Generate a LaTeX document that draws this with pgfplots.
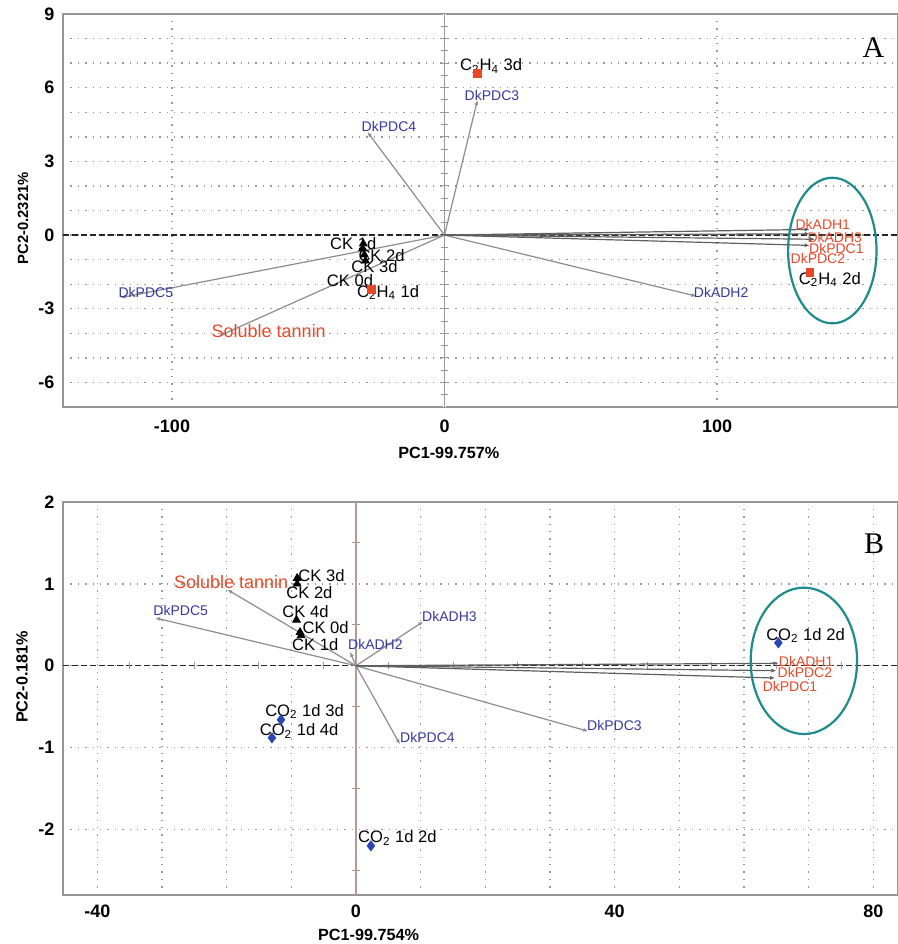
\documentclass[border=0pt]{standalone}
\usepackage{fontspec}
\setmainfont{Liberation Sans}
\newfontfamily\seriffont{Liberation Serif}
\usepackage{pgfplots}
\pgfplotsset{compat=1.18}
\usetikzlibrary{arrows.meta}
\definecolor{lblue}{RGB}{55,55,160}
\definecolor{lred}{RGB}{232,72,40}
\definecolor{lteal}{RGB}{30,140,140}
\definecolor{vgray}{RGB}{140,140,140}
\definecolor{dgray}{RGB}{95,95,95}
\definecolor{mblue}{RGB}{40,70,180}
\definecolor{framegray}{RGB}{150,150,150}
\definecolor{zbrown}{RGB}{180,155,145}
\newcommand{\lbl}{\fontsize{7}{8}\selectfont}
\newcommand{\ck}{\fontsize{8.3}{9}\selectfont}
\pgfplotsset{
  pcastyle/.style={
    scale only axis, width=417.5pt, height=196.5pt,
    axis line style={framegray, line width=0.8pt},
    major tick length=0pt, minor tick length=0pt,
    tick label style={font=\bfseries\fontsize{9}{10}\selectfont},
    label style={font=\bfseries\fontsize{8.1}{10}\selectfont},
    yticklabel style={xshift=-0.8pt},
    major grid style={gray!80, line width=0.7pt, dash pattern=on 0.7pt off 3pt},
    minor grid style={gray!80, line width=0.7pt, dash pattern=on 0.7pt off 3pt},
    vec/.style={vgray, line width=0.6pt, -{Latex[length=2.5pt,width=2pt]}},
    dvec/.style={dgray, line width=0.6pt, -{Latex[length=2.5pt,width=2pt]}},
  }
}
\begin{document}
\begin{tikzpicture}[x=1pt,y=1pt]
\useasboundingbox (0,0) rectangle (449,-472);
% ---------------- Panel A ----------------
\begin{axis}[pcastyle,
  at={(31.5pt,-7pt)}, anchor=north west,
  xmin=-140, xmax=166.4, ymin=-7, ymax=9,
  xtick={-100,0,100}, xticklabels={-100,0,100},
  ytick={-6,-3,0,3,6,9}, yticklabels={-6,-3,0,3,6,9},
  minor ytick={-6,-5,...,8},
  xmajorgrids, ymajorgrids, yminorgrids,
  xticklabel style={anchor=base, yshift=-12.7pt},
  xlabel={PC1-99.757\%}, ylabel={PC2-0.2321\%},
  xlabel style={at={(axis description cs:0.462,0)}, anchor=center, yshift=-23pt},
  ylabel style={at={(axis description cs:-0.048,0.48)}, anchor=center, font=\bfseries\fontsize{7.4}{9}\selectfont},
]
\draw[white, line width=1.2pt] (axis cs:0,-7) -- (axis cs:0,9);
\draw[gray!80, line width=0.7pt] (axis cs:0,-7) -- (axis cs:0,9);
\pgfplotsinvokeforeach{-6.5,-6,-5.5,-5,-4.5,-4,-3.5,-3,-2.5,-2,-1.5,-1,-0.5,0.5,1,1.5,2,2.5,3,3.5,4,4.5,5,5.5,6,6.5,7,7.5,8,8.5}{\draw[gray!80, line width=0.5pt] ([xshift=-1.8pt]axis cs:0,#1) -- ([xshift=1.8pt]axis cs:0,#1);}
\draw[black!85, line width=0.7pt, dash pattern=on 3pt off 1.5pt] (axis cs:-140,0) -- (axis cs:166.4,0);
% vectors
\addplot[vec] coordinates {(0,0) (-28.3,4.2)};
\addplot[vec] coordinates {(0,0) (-118.9,-2.55)};
\addplot[vec] coordinates {(0,0) (12.1,5.5)};
\addplot[vec] coordinates {(0,0) (92.5,-2.49)};
\addplot[vec] coordinates {(0,0) (-82.6,-4.1)};
\addplot[dvec] coordinates {(0,0) (134,0.23)};
\addplot[dvec] coordinates {(0,0) (134,0.05)};
\addplot[dvec] coordinates {(0,0) (136,-0.17)};
\addplot[dvec] coordinates {(0,0) (134,-0.42)};
% samples
\addplot[only marks, mark=triangle*, mark size=2.2pt, black] coordinates {(-29.8,-0.35) (-30.1,-0.55) (-29.4,-0.8) (-29,-1.05)};
\addplot[only marks, mark=square*, mark size=1.9pt, lred] coordinates {(12.1,6.57) (-26.9,-2.2) (134,-1.52)};
% ellipse
\draw[lteal, line width=1.1pt] (axis cs:142.3,-0.63) ellipse [x radius=22.1pt, y radius=36.4pt];
% labels
\node[lblue, font=\lbl] at (axis cs:-20.4,4.41) {DkPDC4};
\node[lblue, font=\lbl] at (axis cs:-109.6,-2.33) {DkPDC5};
\node[lblue, font=\lbl] at (axis cs:17.4,5.67) {DkPDC3};
\node[lblue, font=\lbl] at (axis cs:101.5,-2.33) {DkADH2};
\node[lred, font=\fontsize{9}{10}\selectfont] at (axis cs:-64.5,-3.91) {Soluble tannin};
\node[lred, font=\lbl] at (axis cs:138.8,0.43) {DkADH1};
\node[lred, font=\lbl] at (axis cs:143.2,-0.1) {DkADH3};
\node[lred, font=\lbl] at (axis cs:143.8,-0.54) {DkPDC1};
\node[lred, font=\lbl] at (axis cs:137,-0.95) {DkPDC2};
\node[black, font=\ck] at (axis cs:17.1,6.89) {C\textsubscript{2}H\textsubscript{4} 3d};
\node[black, font=\ck] at (axis cs:141.4,-1.8) {C\textsubscript{2}H\textsubscript{4} 2d};
\node[black, font=\ck] at (axis cs:-20.7,-2.33) {C\textsubscript{2}H\textsubscript{4} 1d};
\node[black, font=\ck] at (axis cs:-33.5,-0.34) {CK 1d};
\node[black, font=\ck] at (axis cs:-23.1,-0.82) {CK 2d};
\node[black, font=\ck] at (axis cs:-25.7,-1.27) {CK 3d};
\node[black, font=\ck] at (axis cs:-34.7,-1.84) {CK 0d};
\node[black, font=\seriffont\fontsize{15}{16}\selectfont] at (axis cs:157.4,7.64) {A};
\end{axis}
% ---------------- Panel B ----------------
\begin{axis}[pcastyle,
  at={(31.5pt,-251pt)}, anchor=north west,
  xmin=-45.3, xmax=83.8, ymin=-2.8, ymax=2,
  xtick={-40,0,40,80}, xticklabels={-40,0,40,80},
  minor xtick={-40,-30,...,80},
  ytick={-2,-1,0,1,2}, yticklabels={-2,-1,0,1,2},
  xmajorgrids, xminorgrids, ymajorgrids,
  xticklabel style={anchor=base, yshift=-11.2pt},
  xlabel={PC1-99.754\%}, ylabel={PC2-0.181\%},
  xlabel style={at={(axis description cs:0.366,0)}, anchor=center, yshift=-20pt},
  ylabel style={at={(axis description cs:-0.049,0.555)}, anchor=center},
]
\draw[white, line width=1.2pt] (axis cs:0,-2.8) -- (axis cs:0,2);
\draw[zbrown, line width=0.7pt] (axis cs:0,-2.8) -- (axis cs:0,2);
\pgfplotsinvokeforeach{-2.5,-1.5,-0.5,0.5,1.5}{\draw[gray!80, line width=0.5pt] ([xshift=-1.8pt]axis cs:0,#1) -- ([xshift=1.8pt]axis cs:0,#1);}
\draw[black!85, line width=0.7pt, dash pattern=on 3pt off 1.5pt] (axis cs:-45.3,0) -- (axis cs:83.8,0);
\pgfplotsinvokeforeach{-35,-25,-15,-5,5,15,25,35,45,55,65,75}{\draw[gray!80, line width=0.5pt] ([yshift=-1.8pt]axis cs:#1,0) -- ([yshift=1.8pt]axis cs:#1,0);}
% vectors
\addplot[vec] coordinates {(0,0) (-31.07,0.585)};
\addplot[vec] coordinates {(0,0) (-19.9,0.93)};
\addplot[vec] coordinates {(0,0) (-0.93,0.17)};
\addplot[vec] coordinates {(0,0) (10.4,0.54)};
\addplot[vec] coordinates {(0,0) (6.8,-0.96)};
\addplot[vec] coordinates {(0,0) (35.9,-0.80)};
\addplot[dvec] coordinates {(0,0) (65.3,0.03)};
\addplot[dvec] coordinates {(0,0) (65.0,-0.06)};
\addplot[dvec] coordinates {(0,0) (64.8,-0.15)};
% samples
\addplot[only marks, mark=triangle*, mark size=2.2pt, black] coordinates {(-9.1,1.07) (-9.1,1.0) (-9.2,0.56) (-8.65,0.41) (-8.5,0.37)};
\addplot[only marks, mark=diamond*, mark size=2.5pt, mblue] coordinates {(-11.6,-0.66) (-13.0,-0.88) (2.3,-2.2) (65.3,0.28)};
% ellipse
\draw[lteal, line width=1.1pt] (axis cs:69.25,0.06) ellipse [x radius=26.6pt, y radius=36.6pt];
% labels
\node[lblue, font=\lbl] at (axis cs:-27.1,0.67) {DkPDC5};
\node[lblue, font=\lbl] at (axis cs:3.0,0.26) {DkADH2};
\node[lblue, font=\lbl] at (axis cs:14.45,0.6) {DkADH3};
\node[lblue, font=\lbl] at (axis cs:11.05,-0.88) {DkPDC4};
\node[lblue, font=\lbl] at (axis cs:39.96,-0.73) {DkPDC3};
\node[lred, font=\fontsize{9}{10}\selectfont] at (axis cs:-19.3,1.02) {Soluble tannin};
\node[lred, font=\lbl] at (axis cs:69.6,0.05) {DkADH1};
\node[lred, font=\lbl] at (axis cs:69.4,-0.08) {DkPDC2};
\node[lred, font=\lbl] at (axis cs:67.1,-0.25) {DkPDC1};
\node[black, font=\ck] at (axis cs:-5.33,1.10) {CK 3d};
\node[black, font=\ck] at (axis cs:-7.2,0.90) {CK 2d};
\node[black, font=\ck] at (axis cs:-7.8,0.66) {CK 4d};
\node[black, font=\ck] at (axis cs:-4.7,0.47) {CK 0d};
\node[black, font=\ck] at (axis cs:-6.3,0.26) {CK 1d};
\node[black, font=\ck] at (axis cs:-7.96,-0.56) {CO\textsubscript{2} 1d 3d};
\node[black, font=\ck] at (axis cs:-8.8,-0.80) {CO\textsubscript{2} 1d 4d};
\node[black, font=\ck] at (axis cs:6.4,-2.10) {CO\textsubscript{2} 1d 2d};
\node[black, font=\ck] at (axis cs:69.5,0.37) {CO\textsubscript{2} 1d 2d};
\node[black, font=\seriffont\fontsize{15}{16}\selectfont] at (axis cs:80.1,1.49) {B};
\end{axis}
\end{tikzpicture}
\end{document}
